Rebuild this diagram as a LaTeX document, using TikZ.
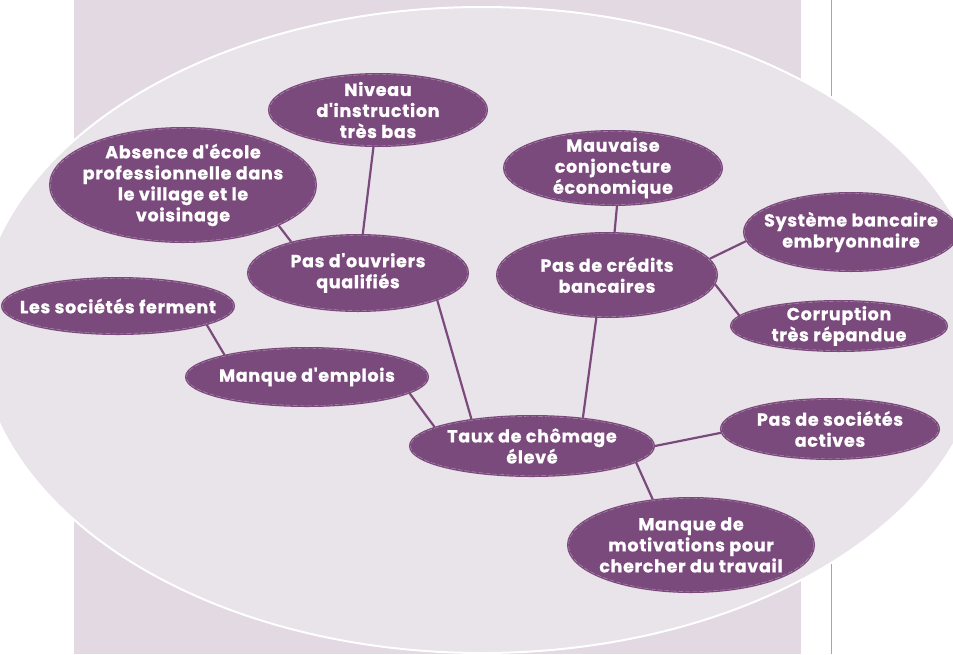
\documentclass[tikz,border=0pt]{standalone}
\usepackage{fontspec}
\setmainfont{Poppins}[Ligatures=TeXOff, LetterSpace=4, BoldFeatures={FakeBold=0.8}]
\usetikzlibrary{shapes.geometric}
\definecolor{nodefill}{HTML}{7B4A7C}
\definecolor{dashc}{HTML}{B596B5}
\definecolor{bgell}{HTML}{E9E3EA}
\definecolor{bgrect}{HTML}{E2D9E2}
\definecolor{greyline}{HTML}{A6A6A6}
\tikzset{
  bubble/.style 2 args={ellipse, fill=nodefill, draw=nodefill, line width=3pt,
    minimum width=#1, minimum height=#2, inner sep=0pt,
    postaction={draw=dashc, line width=0.4pt, dash pattern=on 5pt off 2pt}},
  txt/.style={text=white, font=\fontsize{17.5}{21}\selectfont\bfseries, align=center, inner sep=0pt},
  conn/.style={draw=nodefill, line width=2.2pt}
}
\begin{document}
\begin{tikzpicture}[x=1pt,y=-1pt]
\useasboundingbox (0,0) rectangle (953,654);
\begin{scope}
\clip (0,0) rectangle (953,654);
\fill[bgrect] (74,0) rectangle (801,654);
\draw[greyline, line width=1pt] (831,0) -- (831,654);
\draw[white, line width=2pt, fill=bgell] (482,330) ellipse [x radius=504, y radius=323];
\end{scope}

\coordinate (Pniv) at (378,110);
\coordinate (Pabs) at (183,185);
\coordinate (Pmau) at (613,168);
\coordinate (Psys) at (851,232);
\coordinate (Pouv) at (358,273);
\coordinate (Pcred) at (607,275);
\coordinate (Psoc) at (118,306);
\coordinate (Pcor) at (839,326);
\coordinate (Pemp) at (307,377);
\coordinate (Ptaux) at (532,446);
\coordinate (Pact) at (830,429);
\coordinate (Pmot) at (691,545);

\node[bubble={217pt}{71pt}, label={[txt]center:Niveau\\d'instruction\\très bas}] (niv) at (Pniv) {};
\node[bubble={265pt}{113pt}, label={[txt]center:Absence d'école\\professionnelle dans\\le village et le\\voisinage}] (abs) at (Pabs) {};
\node[bubble={217pt}{73pt}, label={[txt]center:Mauvaise\\conjoncture\\économique}] (mau) at (Pmau) {};
\node[bubble={213pt}{77pt}, label={[txt]center:Système bancaire\\embryonnaire}] (sys) at (Psys) {};
\node[bubble={219pt}{75pt}, label={[txt]center:Pas d'ouvriers\\qualifiés}] (ouv) at (Pouv) {};
\node[bubble={219pt}{83pt}, label={[txt]center:Pas de crédits\\bancaires}] (cred) at (Pcred) {};
\node[bubble={231pt}{55pt}, label={[txt]center:Les sociétés ferment}] (soc) at (Psoc) {};
\node[bubble={215pt}{49pt}, label={[txt]center:Corruption\\très répandue}] (cor) at (Pcor) {};
\node[bubble={241pt}{57pt}, label={[txt]center:Manque d'emplois}] (emp) at (Pemp) {};
\node[bubble={243pt}{59pt}, label={[txt]center:Taux de chômage\\élevé}] (taux) at (Ptaux) {};
\node[bubble={217pt}{59pt}, label={[txt]center:Pas de sociétés\\actives}] (act) at (Pact) {};
\node[bubble={245pt}{93pt}, label={[txt]center:Manque de\\motivations pour\\chercher du travail}] (mot) at (Pmot) {};

% connectors
\draw[conn] (niv) -- (ouv);
\draw[conn] (abs.-23) -- (ouv.155);
\draw[conn] (mau.-84) -- (cred.80);
\draw[conn] (cred.9) -- (sys.185);
\draw[conn] (cred.-5) -- (cor.174);
\draw[conn] (ouv.-19) -- (taux.156);
\draw[conn] (cred.256) -- (taux.29);
\draw[conn] (soc.-12) -- (emp.165);
\draw[conn] (emp.-9) -- (taux.169);
\draw[conn] (taux.0) -- (act.182);
\draw[conn] (taux.-9) -- (mot.130);
\end{tikzpicture}
\end{document}
